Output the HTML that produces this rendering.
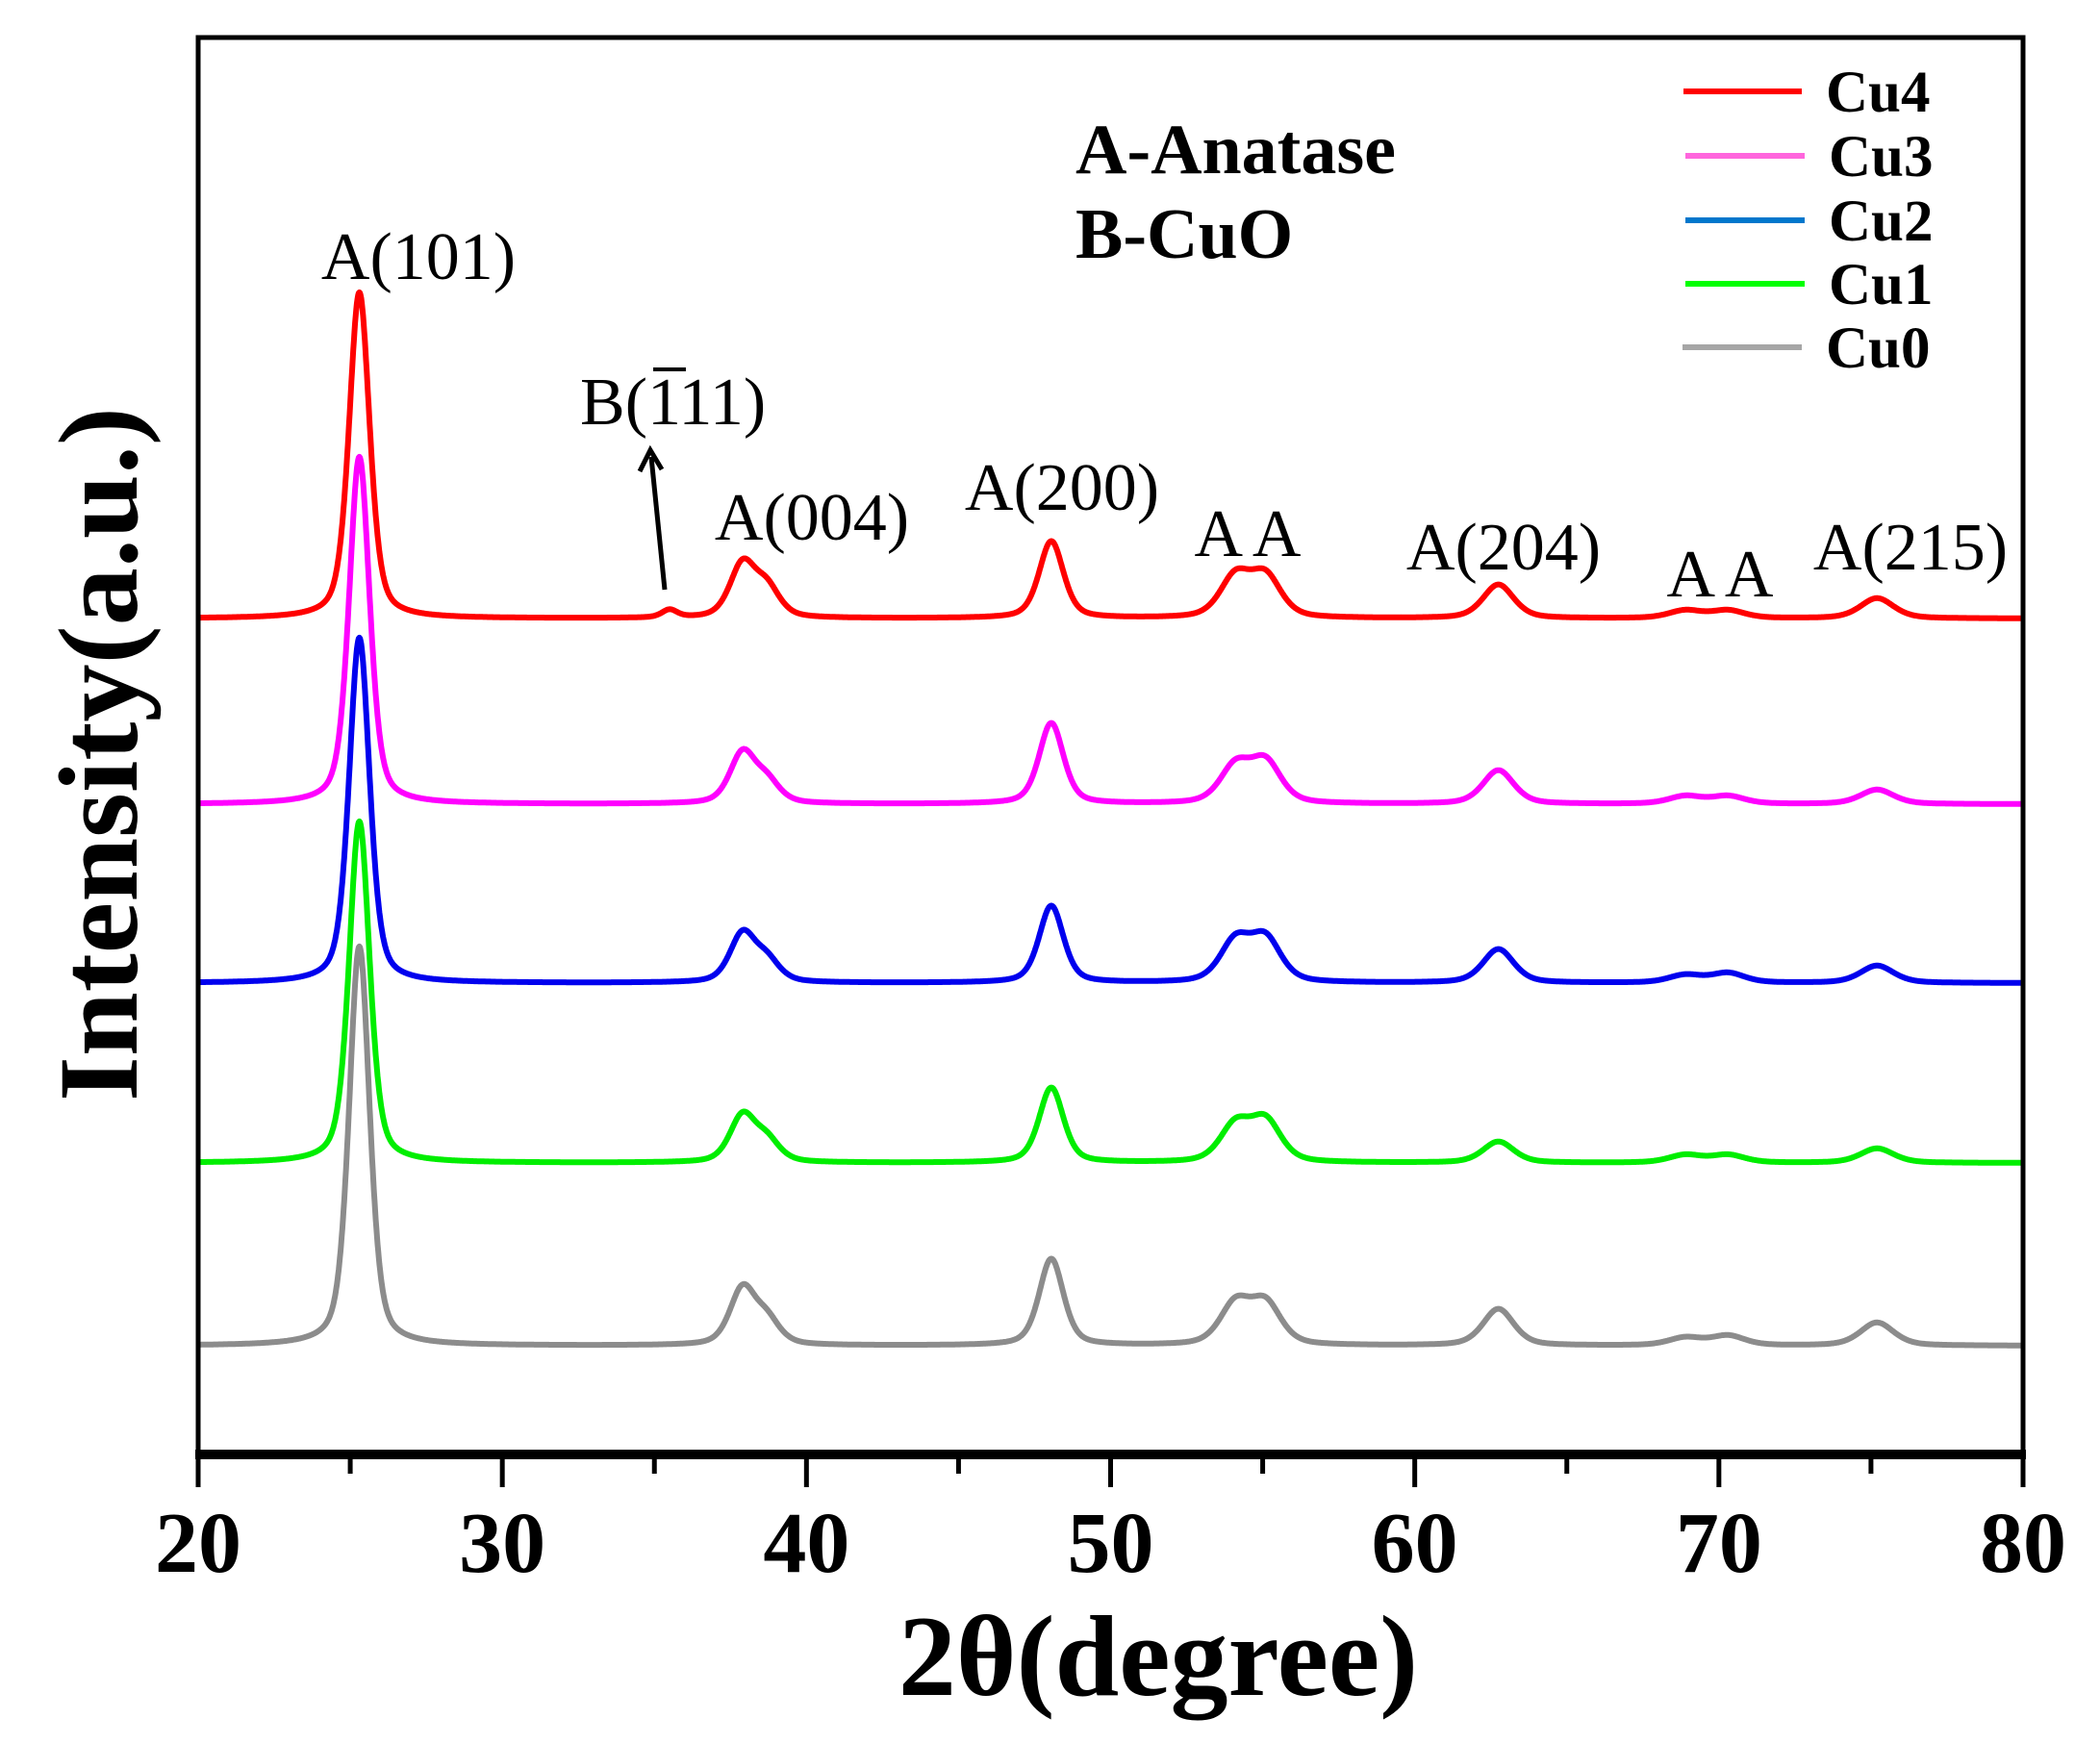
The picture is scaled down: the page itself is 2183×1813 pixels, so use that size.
<!DOCTYPE html>
<html><head><meta charset="utf-8"><style>
html,body{margin:0;padding:0;background:#fff;}
svg{display:block;}
text{font-family:"Liberation Serif",serif;fill:#000;}
</style></head><body>
<svg id="chart" width="2183" height="1813" viewBox="0 0 2183 1813">
<rect x="0" y="0" width="2183" height="1813" fill="#fff"/>
<g id="series"></g>
<g id="axes"></g>
<g>
 <line x1="1750" y1="95" x2="1873" y2="95" stroke="#ff0000" stroke-width="6"/>
 <text x="1898" y="116" font-size="61" font-weight="bold">Cu4</text>
 <line x1="1752" y1="162" x2="1876" y2="162" stroke="#ff66dd" stroke-width="6"/>
 <text x="1901" y="183" font-size="61" font-weight="bold">Cu3</text>
 <line x1="1752" y1="229" x2="1876" y2="229" stroke="#0077cc" stroke-width="6"/>
 <text x="1901" y="250" font-size="61" font-weight="bold">Cu2</text>
 <line x1="1752" y1="295" x2="1876" y2="295" stroke="#00ff00" stroke-width="6"/>
 <text x="1901" y="316" font-size="61" font-weight="bold">Cu1</text>
 <line x1="1749" y1="361" x2="1873" y2="361" stroke="#a6a6a6" stroke-width="6"/>
 <text x="1898" y="382" font-size="61" font-weight="bold">Cu0</text>
</g>
<text x="1118" y="180" font-size="74" font-weight="bold">A-Anatase</text>
<text x="1118" y="268" font-size="74" font-weight="bold">B-CuO</text>
<g font-size="70">
 <text x="435" y="290" text-anchor="middle">A(101)</text>
 <text x="603" y="441">B(1<tspan>1</tspan>1)</text>
 <line x1="679" y1="384" x2="713" y2="384" stroke="#000" stroke-width="4"/>
 <line x1="691" y1="613" x2="677" y2="475" stroke="#000" stroke-width="5"/>
 <polyline points="665,490 676,468 688,488" fill="none" stroke="#000" stroke-width="5"/>
 <text x="844" y="561" text-anchor="middle">A(004)</text>
 <text x="1104" y="530" text-anchor="middle">A(200)</text>
 <text x="1297" y="578" text-anchor="middle">A A</text>
 <text x="1563" y="592" text-anchor="middle">A(204)</text>
 <text x="1788" y="620" text-anchor="middle">A A</text>
 <text x="1986" y="592" text-anchor="middle">A(215)</text>
</g>
<text x="1204" y="1762" text-anchor="middle" font-size="120" font-weight="bold">2θ(degree)</text>
<text transform="translate(142,784) rotate(-90)" text-anchor="middle" font-size="118" font-weight="bold" textLength="722" lengthAdjust="spacingAndGlyphs">Intensity(a.u.)</text>
</svg>
<script>
// data
const seriesNames = ["Cu0","Cu1","Cu2","Cu3","Cu4"];
const seriesColors = ["#8c8c8c","#00ee00","#0000ee","#ff00ff","#ff0000"];
const baselines = [0, 0, 0, 0, 0];
const offsets = [0, 190, 377, 563, 756];           // vertical stacking offset (a.u.)
const peakCenters = [25.3, 35.5, 37.9, 38.7, 48.05, 54.1, 55.1, 62.75, 68.9, 70.3, 75.2];
const heightsCu0 = [415, 0, 58, 25, 90, 42, 42, 38, 8, 10, 24];
const heightsCu1 = [355, 0, 48, 22, 78, 38, 42, 22, 8, 8, 15];
const heightsCu2 = [359, 0, 50, 22, 80, 42, 44, 35, 8, 10, 18];
const heightsCu3 = [361, 0, 52, 22, 84, 38, 42, 35, 8, 8, 15];
const heightsCu4 = [339, 8, 55, 30, 80, 42, 42, 35, 8, 8, 21];
const peakWidths = [0.8, 0.6, 1.0, 1.0, 0.95, 1.2, 1.2, 1.2, 1.3, 1.3, 1.3];
const xTicks = [20,30,40,50,60,70,80];
const xMinorTicks = [25,35,45,55,65,75];

const X0=206, X1=2103, YB=1512, YT=39;
function xs(v){return X0+(v-20)/60*(X1-X0);}
function ys(v){return 1399 - v;}

const heights=[heightsCu0,heightsCu1,heightsCu2,heightsCu3,heightsCu4];
const NS='http://www.w3.org/2000/svg';
const g=document.getElementById('series');
function profile(x,h){
  let s=0;
  for(let i=0;i<peakCenters.length;i++){
    const w=peakWidths[i]/2, d=(x-peakCenters[i])/w;
    s+=h[i]*(0.55*Math.exp(-0.693*d*d)+0.45/(1+d*d));
  }
  return s;
}
for(let k=0;k<seriesNames.length;k++){
  let d='';
  for(let x=20;x<=80.0001;x+=0.02){
    const v=baselines[k]+offsets[k]+profile(x,heights[k]);
    d+=(d?'L':'M')+xs(x).toFixed(1)+','+ys(v).toFixed(1);
  }
  const p=document.createElementNS(NS,'path');
  p.setAttribute('d',d);
  p.setAttribute('fill','none');
  p.setAttribute('stroke',seriesColors[k]);
  p.setAttribute('stroke-width','6');
  p.setAttribute('stroke-linejoin','round');
  
  
  g.appendChild(p);
}
const ax=document.getElementById('axes');
function el(tag,attrs){const e=document.createElementNS(NS,tag);for(const k in attrs)e.setAttribute(k,attrs[k]);ax.appendChild(e);return e;}
const frame=el('rect',{x:X0,y:YT,width:X1-X0,height:YB-YT,fill:'none',stroke:'#000','stroke-width':5});


const xl=el('line',{x1:X0-3,y1:YB,x2:X1+3,y2:YB,stroke:'#000','stroke-width':10});


xTicks.forEach(t=>{
  const l=el('line',{x1:xs(t),y1:YB,x2:xs(t),y2:YB+34,stroke:'#000','stroke-width':5});
  
  
  const tx=el('text',{x:xs(t),y:1634,'text-anchor':'middle','font-size':90,'font-weight':'bold'});
  tx.textContent=t;
  
  
});
xMinorTicks.forEach(t=>{
  const l=el('line',{x1:xs(t),y1:YB,x2:xs(t),y2:YB+20,stroke:'#000','stroke-width':5});
  
  
});
</script>
</body></html>
